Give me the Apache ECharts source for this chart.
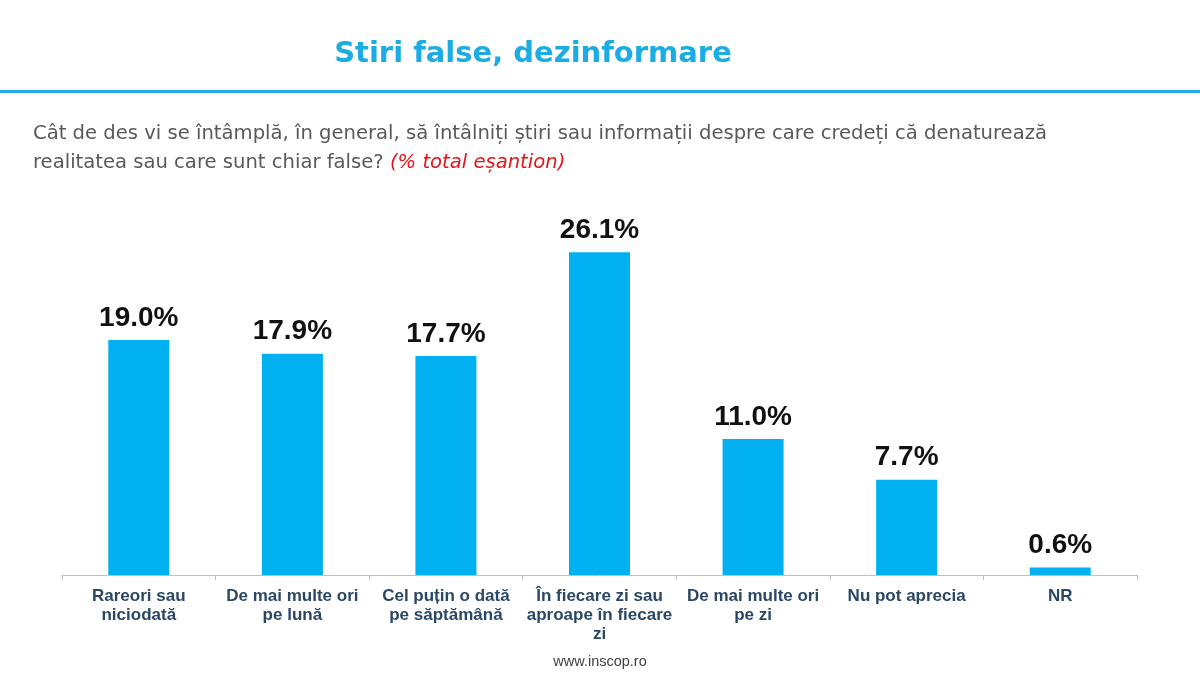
<!DOCTYPE html>
<html>
<head>
<meta charset="utf-8">
<script src="https://cdn.jsdelivr.net/npm/echarts@6/dist/echarts.min.js"></script>
<style>html,body{margin:0;padding:0;background:#fff;}#c{width:1200px;height:675px;}</style>
</head>
<body>
<div id="c"></div>
<script>
const categories = [
  "Rareori sau\nniciodată",
  "De mai multe ori\npe lună",
  "Cel puțin o dată\npe săptămână",
  "În fiecare zi sau\naproape în fiecare\nzi",
  "De mai multe ori\npe zi",
  "Nu pot aprecia",
  "NR"
];
const values = [19.0, 17.9, 17.7, 26.1, 11.0, 7.7, 0.6];

const chart = echarts.init(document.getElementById('c'));
chart.setOption({
  animation: false,
  backgroundColor: '#ffffff',
  title: [
    {
      text: 'Stiri false, dezinformare',
      left: 528, top: 35, textAlign: 'center',
      textStyle: { fontFamily: 'DejaVu Sans, Verdana, sans-serif', fontWeight: 'bold', fontSize: 29, color: '#1AACE3' }
    },
    {
      text: '{n|Cât de des vi se întâmplă, în general, să întâlniți știri sau informații despre care credeți că denaturează}\n{n|realitatea sau care sunt chiar false? }{r|(% total eșantion)}',
      left: 28, top: 114,
      textStyle: {
        fontWeight: 'normal',
        rich: {
          n: { fontFamily: 'DejaVu Sans, sans-serif', fontSize: 19.6, fontWeight: 'normal', color: '#595959', lineHeight: 29 },
          r: { fontFamily: 'DejaVu Sans, sans-serif', fontSize: 19.6, fontWeight: 'normal', color: '#E3161C', fontStyle: 'italic', lineHeight: 29 }
        }
      }
    },
    {
      text: 'www.inscop.ro',
      left: 595, top: 649, textAlign: 'center',
      textStyle: { fontFamily: 'Liberation Sans, Arial, sans-serif', fontSize: 14.5, fontWeight: 'normal', color: '#404040' }
    }
  ],
  graphic: [
    { type: 'rect', left: 0, top: 90, shape: { width: 1200, height: 3 }, style: { fill: '#2AAAE0' } }
  ],
  grid: { left: 62, right: 63, top: 204, bottom: 100, containLabel: false },
  xAxis: {
    type: 'category',
    data: categories,
    axisLine: { lineStyle: { color: '#BFBFBF', width: 1 } },
    axisTick: { show: true, length: 5, lineStyle: { color: '#BFBFBF' } },
    axisLabel: {
      interval: 0, margin: 12,
      fontFamily: 'Liberation Sans, Arial, sans-serif', fontSize: 17, fontWeight: 'bold',
      color: '#2B4766', lineHeight: 19
    }
  },
  yAxis: { type: 'value', min: 0, max: 30, show: false, splitLine: { show: false } },
  series: [{
    type: 'bar',
    data: values,
    barWidth: 61,
    itemStyle: { color: '#00B0F0' },
    label: {
      show: true, position: 'top', distance: 8,
      formatter: p => p.value.toFixed(1) + '%',
      fontFamily: 'Liberation Sans, Arial, sans-serif', fontSize: 28, fontWeight: 'bold', color: '#111111'
    }
  }]
});
</script>
</body>
</html>
